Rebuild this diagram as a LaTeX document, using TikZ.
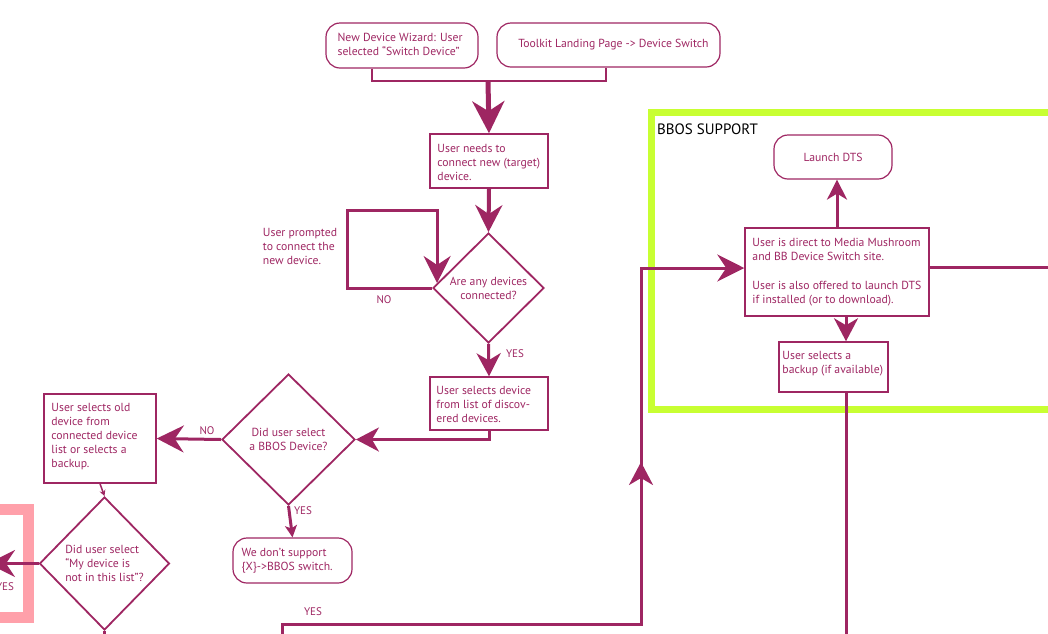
\documentclass[tikz,border=0pt]{standalone}
\usepackage{fontspec}
\setmainfont{PT Sans}
\usetikzlibrary{arrows.meta,shapes.geometric,calc}
\definecolor{plum}{RGB}{158,38,98}
\definecolor{lime}{RGB}{200,255,50}
\definecolor{blush}{RGB}{255,160,170}

\begin{document}
\begin{tikzpicture}[x=1pt,y=-1pt,
  txt/.style={font=\fontsize{11.7}{14}\selectfont, text=plum, inner sep=0pt, align=left},
  lbl/.style={font=\fontsize{11}{12}\selectfont, text=plum, inner sep=0pt},
  sqbox/.style={draw=plum, line width=1.5pt, inner sep=0pt},
  rbox/.style={draw=plum, line width=1.2pt, rounded corners=14pt, inner sep=0pt},
  dia/.style={diamond, draw=plum, line width=1.8pt, inner sep=0pt,
    font=\fontsize{11.7}{14}\selectfont, text=plum},
  flow/.style={draw=plum, line width=3pt},
  tipXL/.style={-{Stealth[length=32pt,width=32pt,inset=10pt]}},
  tipL/.style={-{Stealth[length=27pt,width=27pt,inset=9pt]}},
  tipM/.style={-{Stealth[length=23pt,width=24pt,inset=7pt]}},
  tipS/.style={-{Stealth[length=12pt,width=12pt,inset=3pt]}},
  tipXS/.style={-{Stealth[length=6pt,width=6pt,inset=2pt]}},
]
\useasboundingbox (0,0) rectangle (1048,633);
\clip (0,0) rectangle (1048,633);

% group frames
\draw[blush, line width=11pt] (-30,509) rectangle (28,617);
\draw[lime, line width=7pt] (651,112) rectangle (1070,409);
\node[anchor=west, inner sep=0pt, font=\fontsize{15}{17}\selectfont, text=black] (bbos) at (657,129) {BBOS SUPPORT};

% entry points
\node[rbox, minimum width=152pt, minimum height=45pt] (A) at (402,45.5) {};
\node[txt, anchor=west] (At) at ($(A.west)+(12,-1.5)$) {New Device Wizard: User\\selected “Switch Device”};
\node[rbox, minimum width=223pt, minimum height=44pt] (B) at (608.5,45) {};
\node[txt] (Bt) at ($(B.center)+(5,0)$) {Toolkit Landing Page -> Device Switch};

% main column
\node[sqbox, minimum width=118pt, minimum height=54pt] (C) at (489,161) {};
\node[txt, anchor=west] (Ct) at ($(C.west)+(8,1)$) {User needs to\\connect new (target)\\device.};

\node[dia, minimum width=111pt, minimum height=110pt, align=center] (D1) at (488.5,288) {Are any devices\\connected?};

\node[txt] (prompt) at (300,246.5) {User prompted\\to connect the\\new device.};

\node[sqbox, minimum width=118pt, minimum height=53pt] (E) at (489,403.5) {};
\node[txt, anchor=west] (Et) at ($(E.west)+(7,1)$) {User selects device\\from list of discov-\\ered devices.};

\node[dia, minimum width=133pt, minimum height=131pt, align=center] (D2) at (288.5,439.5) {Did user select\\a BBOS Device?};

\node[sqbox, minimum width=112pt, minimum height=89pt] (F) at (100,438.5) {};
\node[txt, anchor=west] (Ft) at ($(F.west)+(8,-2)$) {User selects old\\device from\\connected device\\list or selects a\\backup.};

\node[rbox, minimum width=119pt, minimum height=45pt] (G) at (292.5,560.5) {};
\node[txt, anchor=west] (Gt) at ($(G.west)+(9,0)$) {We don’t support\\\{X\}->BBOS switch.};

\node[dia, minimum width=130pt, minimum height=133pt, align=left] (D3) at (104.5,563.5) {Did user select\\“My device is\\not in this list”?};

% BBOS support column
\node[rbox, minimum width=118pt, minimum height=44pt, txt] (L) at (833,157) {Launch DTS};
\node[sqbox, minimum width=184pt, minimum height=88pt] (H) at (837,272) {};
\node[txt, anchor=west] (Ht) at ($(H.west)+(8,0)$) {User is direct to Media Mushroom\\and BB Device Switch site.\\[15pt]User is also offered to launch DTS\\if installed (or to download).};
\node[sqbox, minimum width=109pt, minimum height=50pt] (I) at (833.5,367) {};
\node[txt, anchor=west] (It) at ($(I.west)+(4,-3)$) {User selects a\\backup (if available)};

% connectors
\coordinate (join) at (488,81);
\draw[plum, line width=1.8pt] ([xshift=-30pt]A.south) |- (join) -| ([xshift=-2.5pt]B.south);
\draw[flow, line width=5pt, tipXL] (join) -- (C.north);
\draw[flow, line width=4pt, tipL] (C.south) -- (D1.north);

\coordinate (loopA) at (347,210);
\draw[flow, tipL] (D1.west) -| (loopA) -| ($(D1.west)+(5,-5)$);
\node[lbl] (no1) at (384,300) {NO};

\draw[flow, tipM] (D1.south) -- (E.north);
\node[lbl] (yes1) at (515,354) {YES};

\draw[flow, tipM] (E.south) |- (D2.east);
\draw[flow, tipL] (D2.west) -- (F.east);
\node[lbl] (no2) at (207,431) {NO};
\draw[flow, tipS] (D2.south) -- (G.north);
\node[lbl] (yes2) at (303,511) {YES};

\draw[plum, line width=1.5pt, tipXS] (F.south) -- (D3.north);
\coordinate (offL) at (-12,563.5);
\draw[flow, tipL] (D3.west) -- (offL);
\node[lbl] (yes3) at (5,587) {YES};
\coordinate (offB) at (104.5,650);
\draw[flow] (D3.south) -- (offB);

\coordinate (bStart) at (282,650);
\coordinate (bCorner) at (641,624);
\coordinate (hIn) at ($(H.west)+(0,-4)$);
\draw[flow, tipL] (bStart) |- (bCorner) |- (hIn);
\node[lbl] (yes4) at (313,612) {YES};
\coordinate (midA) at (641,500);
\coordinate (midB) at (641,462);
\draw[flow, tipM] (midA) -- (midB);

\draw[flow, line width=3pt, {-Stealth[length=20pt,width=20pt,inset=6pt]}] (H.north) -- (H.north |- L.south);
\coordinate (hOutR) at ($(H.east)+(0,-5)$);
\coordinate (offR) at (1070,267);
\draw[flow] (hOutR) -- (offR);
\coordinate (hOut) at ($(H.south)+(9,0)$);
\draw[flow, tipM] (hOut) -- (hOut |- I.north);
\coordinate (offI) at (846,650);
\draw[flow] (I.south -| hOut) -- (offI);
\end{tikzpicture}
\end{document}
